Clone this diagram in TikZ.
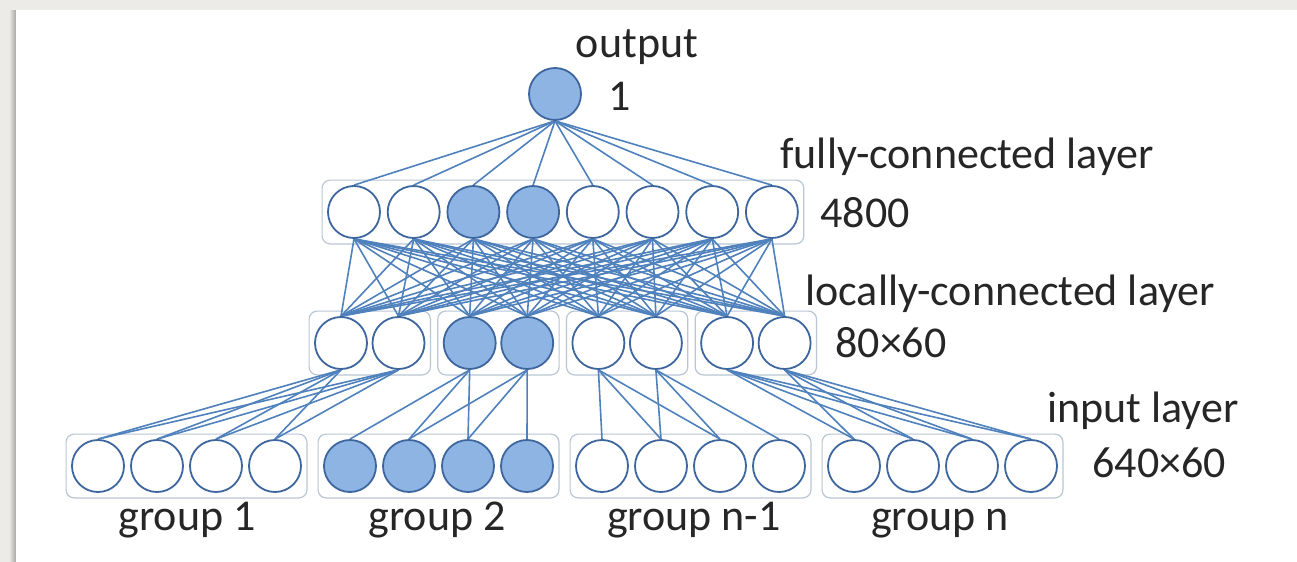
\documentclass[tikz,border=0pt]{standalone}
\usepackage{fontspec}
\setmainfont{Carlito}
\usepackage{tikz}
\usetikzlibrary{fit}
\pgfdeclarelayer{background}
\pgfsetlayers{background,main}
\definecolor{edgeblue}{RGB}{79,129,189}
\definecolor{ringblue}{RGB}{62,102,158}
\definecolor{unitfill}{RGB}{141,180,226}
\definecolor{boxgray}{RGB}{185,198,212}
\definecolor{paper}{RGB}{236,235,231}

\begin{document}
\begin{tikzpicture}[x=0.5pt, y=-0.5pt, font=\fontsize{22}{26}\selectfont,
  unit/.style={circle, draw=ringblue, line width=0.9pt, fill=white, minimum size=26pt, inner sep=0pt},
  hot/.style={unit, fill=unitfill},
  layerbox/.style={draw=boxgray, line width=0.6pt, rounded corners=4pt, inner sep=2.5pt},
  link/.style={edgeblue, line width=0.8pt},
  lbl/.style={text=black!85, inner sep=0pt, anchor=base west}]
  \useasboundingbox (0,0) rectangle (1297,562);
  % output unit on top
  \node[hot] (out) at (555,94) {};
  % fully-connected layer: 8 units, the 3rd and 4th shaded
  \foreach \i/\sty in {1/unit,2/unit,3/hot,4/hot,5/unit,6/unit,7/unit,8/unit}
    \node[\sty] (fc\i) at ({354+59.7*(\i-1)},212) {};
  % locally-connected layer: 4 pairs, the 2nd pair shaded
  \foreach \p/\sty in {1/unit,2/hot,3/unit,4/unit}
    \foreach \k in {1,2}
      \node[\sty] (lc\p\k) at ({341+128.7*(\p-1)+57.5*(\k-1)},343) {};
  % input layer: 4 groups of 4, group 2 shaded
  \foreach \g/\sty in {1/unit,2/hot,3/unit,4/unit}
    \foreach \k in {1,...,4}
      \node[\sty] (in\g\k) at ({98+252*(\g-1)+59*(\k-1)},466) {};

  % labels
  \node[lbl, anchor=base] (outtxt) at (637,57) {output};
  \node[lbl] (outnum) at (608,110) {1};
  \node[lbl] (fctxt) at (780,168) {fully-connected layer};
  \node[lbl] (fcnum) at (820,227) {4800};
  \node[lbl] (lctxt) at (805,305) {locally-connected layer};
  \node[lbl] (lcnum) at (835,357) {80×60};
  \node[lbl] (intxt) at (1047,422) {input layer};
  \node[lbl] (innum) at (1092,477) {640×60};
  \node[lbl, anchor=base] (g1txt) at (187,530) {group 1};
  \node[lbl, anchor=base] (g2txt) at (437,530) {group 2};
  \node[lbl, anchor=base] (g3txt) at (694,530) {group n-1};
  \node[lbl, anchor=base] (g4txt) at (940,530) {group n};

  \begin{pgfonlayer}{background}
    % page, shadow and white sheet
    \fill[paper] (0,0) rectangle (1297,562);
    \shade[left color=paper, right color=black!35] (9,10) rectangle (16,562);
    \fill[white] (16,10) rectangle (1297,562);
    % boxes round each group
    \node[layerbox, fit=(fc1)(fc8)] (fcbox) {};
    \foreach \p in {1,...,4}
      \node[layerbox, fit=(lc\p1)(lc\p2)] (lcbox\p) {};
    \foreach \g in {1,...,4}
      \node[layerbox, fit=(in\g1)(in\g4)] (inbox\g) {};
    % output <- fully-connected
    \foreach \i in {1,...,8}
      \draw[link] (out.south) -- (fc\i.north);
    % fully-connected <- locally-connected (all pairs)
    \foreach \i in {1,...,8}
      \foreach \p in {1,...,4}
        \foreach \k in {1,2}
          \draw[link] (fc\i.south) -- (lc\p\k.north);
    % outer groups: each unit sees all 4 inputs
    \foreach \p in {1,4}
      \foreach \k in {1,2}
        \foreach \j in {1,...,4}
          \draw[link] (lc\p\k.south) -- (in\p\j.north);
    % inner groups: sliding window of 3
    \foreach \p in {2,3} {
      \foreach \j in {1,2,3}
        \draw[link] (lc\p1.south) -- (in\p\j.north);
      \foreach \j in {2,3,4}
        \draw[link] (lc\p2.south) -- (in\p\j.north);
    }
  \end{pgfonlayer}
\end{tikzpicture}
\end{document}
